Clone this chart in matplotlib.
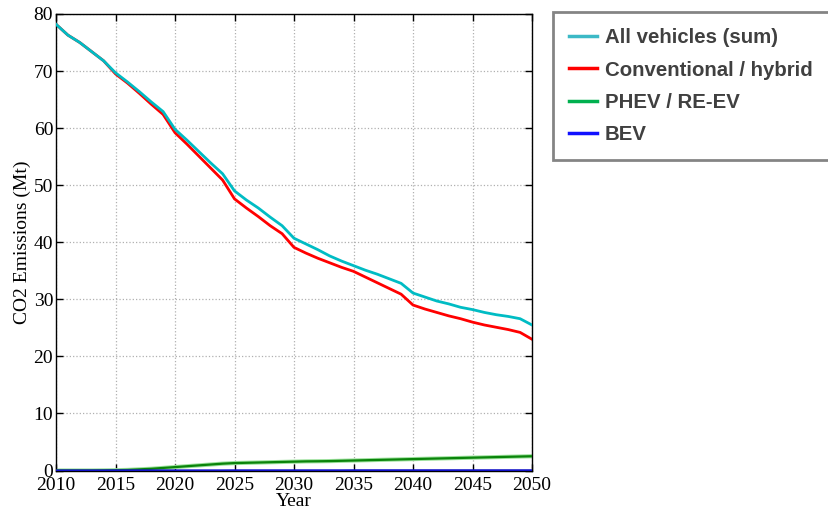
#!/usr/bin/env python3

import matplotlib
matplotlib.use("Agg")
import matplotlib.pyplot as plot
from matplotlib.lines import Line2D

# CO2 emissions (Mt) per year
years = list(range(2010, 2051))

all_vehicles = [78.2, 76.3, 75.0, 73.4, 71.8, 69.7, 68.1, 66.4, 64.6, 62.9,
                59.8, 57.9, 55.9, 53.9, 52.0, 49.0, 47.4, 46.0, 44.4, 42.9,
                40.7, 39.7, 38.7, 37.6, 36.7, 35.9, 35.1, 34.4, 33.6, 32.8,
                31.1, 30.4, 29.7, 29.2, 28.6, 28.2, 27.7, 27.3, 27.0, 26.6,
                25.5]

conventional = [78.2, 76.3, 75.0, 73.4, 71.8, 69.5, 67.9, 66.1, 64.2, 62.4,
                59.2, 57.2, 55.1, 53.0, 50.9, 47.6, 46.0, 44.5, 42.9, 41.5,
                39.1, 38.1, 37.2, 36.4, 35.6, 34.9, 33.9, 32.9, 31.9, 30.9,
                29.0, 28.3, 27.7, 27.1, 26.6, 26.0, 25.5, 25.1, 24.7, 24.2,
                23.0]

phev = [0.0, 0.0, 0.0, 0.0, 0.02, 0.05, 0.1, 0.2, 0.3, 0.45,
        0.6, 0.75, 0.9, 1.05, 1.2, 1.3, 1.35, 1.4, 1.45, 1.5,
        1.55, 1.6, 1.62, 1.65, 1.7, 1.75, 1.8, 1.85, 1.9, 1.95,
        2.0, 2.05, 2.1, 2.15, 2.2, 2.25, 2.3, 2.35, 2.4, 2.45,
        2.5]

bev = [0.0] * 5 + [0.01] * 10 + [0.02] * 10 + [0.03] * 16

series_names = ["All vehicles (sum)", "Conventional / hybrid", "PHEV / RE-EV", "BEV"]
legend_colours = ["#3cb9c6", "#ff0000", "#00b04f", "#1010ff"]

x_ticks = list(range(2010, 2051, 5))
y_ticks = list(range(0, 81, 10))

serif = ["Liberation Serif", "DejaVu Serif"]

fig = plot.figure(figsize=(8.29, 5.11), dpi=100)
ax = fig.add_axes([56 / 829, 1 - 470.5 / 511, 476 / 829, 456.5 / 511])

ax.plot(years, all_vehicles, color="#00bcc4", lw=2.0, zorder=3)
ax.plot(years, conventional, color="#ff0000", lw=2.0, zorder=2)
ax.plot(years, phev, color="#9be09b", lw=3.0, zorder=2)
ax.plot(years, phev, color="#0a840a", lw=1.6, zorder=3)
ax.plot(years, bev, color="#1010c8", lw=1.6, zorder=4)

ax.set_xlim(2010, 2050)
ax.set_ylim(0, 80)
ax.set_xticks(x_ticks)
ax.set_yticks(y_ticks)
ax.tick_params(direction="in", top=True, right=True, length=5, width=1,
               labelsize=14, pad=2)
ax.tick_params(axis="x", pad=5)
for lab in ax.get_xticklabels() + ax.get_yticklabels():
    lab.set_family(serif)
ax.grid(True, linestyle=":", color="#b0b0b0", lw=0.9)
for s in ax.spines.values():
    s.set_linewidth(1.0)

ax.set_xlabel("Year", family=serif, fontsize=14, labelpad=-1)
ax.set_ylabel("CO2 Emissions (Mt)", family=serif, fontsize=14, labelpad=2)

handles = [Line2D([0], [0], color=c, lw=2.5) for c in legend_colours]
leg = fig.legend(handles, series_names, loc="upper left",
                 bbox_to_anchor=(553 / 829, 1 - 12 / 511),
                 prop={"family": "Liberation Sans", "weight": "bold", "size": 14.7},
                 frameon=True, fancybox=False, handlelength=1.35,
                 handletextpad=0.4, labelspacing=0.65, borderpad=0.8,
                 borderaxespad=0)
leg.get_frame().set_edgecolor("#666666")
leg.get_frame().set_linewidth(2)
for t in leg.get_texts():
    t.set_color("#404040")

plot.savefig("out.png", dpi=100)
